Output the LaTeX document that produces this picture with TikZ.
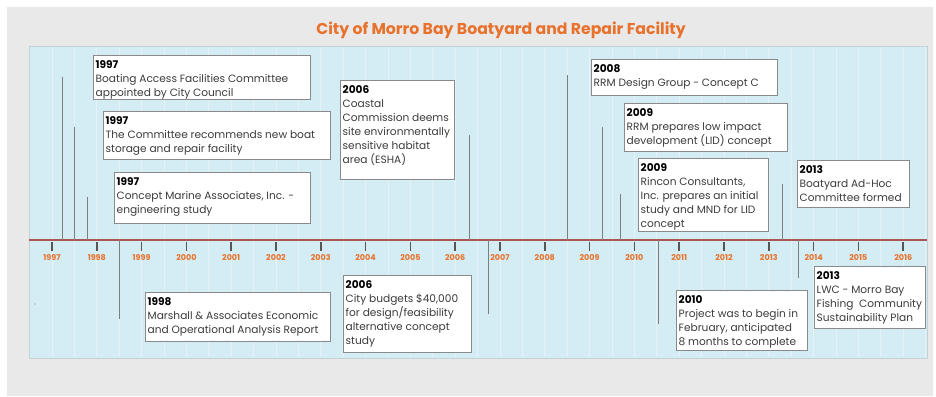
\documentclass[tikz,border=0pt]{standalone}
\usepackage{fontspec}
\setmainfont{Poppins}
\usetikzlibrary{positioning}

\definecolor{pagegrey}{HTML}{E9E9E9}
\definecolor{plotblue}{HTML}{D4ECF3}
\definecolor{plotedge}{HTML}{C4D2D6}
\definecolor{gridline}{HTML}{E6F2F6}
\definecolor{axisred}{HTML}{AC5553}
\definecolor{tickgrey}{HTML}{555555}
\definecolor{titleorange}{HTML}{E8722C}
\definecolor{boxedge}{HTML}{8A8A8A}
\definecolor{bodytext}{HTML}{3C3C3C}
\definecolor{markgrey}{HTML}{7E7E7E}

\newcommand{\evyr}[1]{{\bfseries\color{black}#1}}

\tikzset{
  evbox/.style={draw=boxedge, line width=1.2pt, fill=white, anchor=north west, inner sep=0pt},
  evtext/.style={anchor=north west, align=left, inner sep=0pt, text=bodytext,
    font=\fontsize{10.6}{14}\selectfont},
  yearlbl/.style={text=titleorange, font=\fontsize{8}{9}\bfseries\selectfont},
  marker/.style={draw=markgrey, line width=0.9pt},
}

\begin{document}
\begin{tikzpicture}[x=1pt,y=-1pt]
  \useasboundingbox (0,0) rectangle (936,396);
  \fill[white] (0,0) rectangle (936,396);
  \fill[pagegrey] (7,7) rectangle (933,396);

  % title
  \node[text=titleorange, font=\fontsize{15.7}{17}\bfseries\selectfont] (title) at (501,30) {City of Morro Bay Boatyard and Repair Facility};

  % plot area and half year grid
  \fill[plotblue] (29,46) rectangle (927,358);
  \foreach \i in {0,...,39}
    \draw[gridline, line width=0.8pt] ({52+\i*22.4},47) -- ({52+\i*22.4},357);
  \draw[plotedge, line width=0.8pt] (29,46) rectangle (927,358);

  % time axis
  \coordinate (axl) at (29,240);
  \coordinate (axr) at (927,240);
  \draw[axisred, line width=2.6pt] (axl) -- (axr);
  \foreach \yr in {1997,...,2016} {
    \pgfmathsetmacro{\xx}{52+(\yr-1997)*44.8}
    \draw[tickgrey, line width=1.6pt] (\xx,241.5) -- (\xx,251);
    \node[yearlbl] (yr\yr) at (\xx,257.5) {\yr};
  }

  % event markers
  \coordinate (mk1) at (62,77);
  \coordinate (mk2) at (74,127);
  \coordinate (mk3) at (87,197);
  \coordinate (mk4) at (119,319);
  \coordinate (mk5) at (469,135);
  \coordinate (mk6) at (488,314);
  \coordinate (mk7) at (567,75);
  \coordinate (mk8) at (602,127);
  \coordinate (mk9) at (620,194);
  \coordinate (mk10) at (658,324);
  \coordinate (mk11) at (782,184);
  \coordinate (mk12) at (798,278);
  \foreach \m in {1,...,12}
    \draw[marker] (mk\m) -- (mk\m |- axl);
  \fill[markgrey] (35,304) circle (0.6);

  % boxes above the axis
  \node[evbox, minimum width=217pt, minimum height=44pt] (boatcomm) at (93,55) {};
  \node[evbox, minimum width=227pt, minimum height=48pt] (recommend) at (103,111) {};
  \node[evbox, minimum width=196pt, minimum height=51pt] (conmarine) at (114,172) {};
  \node[evbox, minimum width=114pt, minimum height=99pt] (esha) at (340,80) {};
  \node[evbox, minimum width=186pt, minimum height=36pt] (rrmc) at (591,59) {};
  \node[evbox, minimum width=163pt, minimum height=48pt] (lid) at (624,103) {};
  \node[evbox, minimum width=130pt, minimum height=73pt] (rincon) at (638,158) {};
  \node[evbox, minimum width=112pt, minimum height=47pt] (adhoc) at (797,160) {};
  % boxes below the axis
  \node[evbox, minimum width=185pt, minimum height=49pt] (marshall) at (145,292) {};
  \node[evbox, minimum width=128pt, minimum height=77pt] (budget) at (343,275) {};
  \node[evbox, minimum width=131pt, minimum height=60pt] (start) at (676,290) {};
  \node[evbox, minimum width=111pt, minimum height=62pt] (lwc) at (814,266) {};

  % box texts
  \node[evtext] (boatcomm-t) at ([xshift=2.5pt,yshift=-5.5pt]boatcomm.north west) {\evyr{1997}\\Boating Access Facilities Committee\\appointed by City Council};
  \node[evtext] (recommend-t) at ([xshift=2.5pt,yshift=-5.5pt]recommend.north west) {\evyr{1997}\\The Committee recommends new boat\\storage and repair facility};
  \node[evtext] (conmarine-t) at ([xshift=2.5pt,yshift=-5.5pt]conmarine.north west) {\evyr{1997}\\Concept Marine Associates, Inc. -\\engineering study};
  \node[evtext] (esha-t) at ([xshift=2.5pt,yshift=-5.5pt]esha.north west) {\evyr{2006}\\Coastal\\Commission deems\\site environmentally\\sensitive habitat\\area (ESHA)};
  \node[evtext] (rrmc-t) at ([xshift=2.5pt,yshift=-5.5pt]rrmc.north west) {\evyr{2008}\\RRM Design Group - Concept C};
  \node[evtext] (lid-t) at ([xshift=2.5pt,yshift=-5.5pt]lid.north west) {\evyr{2009}\\RRM prepares low impact\\development (LID) concept};
  \node[evtext] (rincon-t) at ([xshift=2.5pt,yshift=-5.5pt]rincon.north west) {\evyr{2009}\\Rincon Consultants,\\Inc. prepares an initial\\study and MND for LID\\concept};
  \node[evtext] (adhoc-t) at ([xshift=2.5pt,yshift=-5.5pt]adhoc.north west) {\evyr{2013}\\Boatyard Ad-Hoc\\Committee formed};
  \node[evtext] (marshall-t) at ([xshift=2.5pt,yshift=-5.5pt]marshall.north west) {\evyr{1998}\\Marshall \& Associates Economic\\and Operational Analysis Report};
  \node[evtext] (budget-t) at ([xshift=2.5pt,yshift=-5.5pt]budget.north west) {\evyr{2006}\\City budgets \$40,000\\for design/feasibility\\alternative concept\\study};
  \node[evtext] (start-t) at ([xshift=2.5pt,yshift=-5.5pt]start.north west) {\evyr{2010}\\Project was to begin in\\February, anticipated\\8 months to complete};
  \node[evtext] (lwc-t) at ([xshift=2.5pt,yshift=-5.5pt]lwc.north west) {\evyr{2013}\\LWC - Morro Bay\\Fishing~ Community\\Sustainability Plan};
\end{tikzpicture}
\end{document}
